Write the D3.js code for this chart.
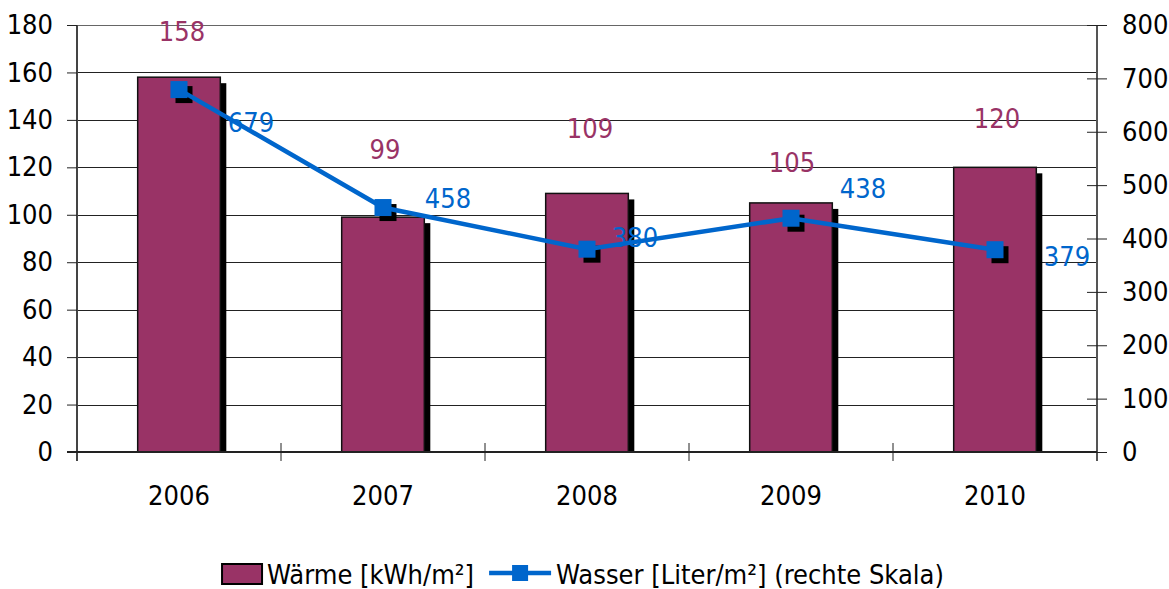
<!DOCTYPE html>
<html>
<head>
<meta charset="utf-8">
<script src="https://cdn.jsdelivr.net/npm/d3@7/dist/d3.min.js"></script>
<style>
  html, body { margin: 0; padding: 0; background: #fff; }
  svg { display: block; }
  text { font-family: "DejaVu Sans Condensed", "DejaVu Sans", sans-serif; }
</style>
</head>
<body>
<svg id="chart" width="1169" height="589"></svg>
<script>
// Jahresverbrauch: Wärme (linke Achse) und Wasser (rechte Achse)
const years = ["2006", "2007", "2008", "2009", "2010"];
const waerme = [158, 99, 109, 105, 120];
const wasser = [679, 458, 380, 438, 379];
const leftTicks = [0, 20, 40, 60, 80, 100, 120, 140, 160, 180];
const rightTicks = [0, 100, 200, 300, 400, 500, 600, 700, 800];
const legendLabels = ["Wärme [kWh/m²]", "Wasser [Liter/m²] (rechte Skala)"];

// label placement relative to the mark (pixels)
const waermeLabelShift = [[3, -46], [2, -68], [3, -65], [1, -40], [2, -49]];
const wasserLabelShift = [[72, 33], [65, -9], [48, -12], [72, -30], [72, 7]];

const barColor = "#993366";
const lineColor = "#0066CC";
const fontSize = 27;

const svg = d3.select("#chart");
const plotL = 77, plotR = 1097, plotT = 25, plotB = 452;

const x = d3.scaleBand().domain(years).range([plotL, plotR]).padding(0);
const yL = d3.scaleLinear().domain([0, 180]).range([plotB, plotT]);
const yR = d3.scaleLinear().domain([0, 800]).range([plotB, plotT]);
const barW = x.bandwidth() * 0.405;
const cx = d => x(d) + x.bandwidth() / 2;

// gridlines
svg.append("g").selectAll("line").data(leftTicks.filter(t => t > 0)).join("line")
  .attr("x1", plotL).attr("x2", plotR)
  .attr("y1", d => Math.round(yL(d)) + 0.5).attr("y2", d => Math.round(yL(d)) + 0.5)
  .attr("stroke", d => d === 180 ? "#666" : "#222").attr("stroke-width", 1);

// left axis
const axL = svg.append("g").attr("transform", `translate(${plotL},0)`)
  .call(d3.axisLeft(yL).tickValues(leftTicks).tickSize(10).tickPadding(14));
axL.select(".domain").attr("stroke", "#444").attr("stroke-width", 2)
  .attr("d", `M0,${plotT}V${plotB + 9}`);
axL.selectAll(".tick line").attr("stroke", "#222");
axL.selectAll(".tick text").attr("font-size", fontSize).attr("fill", "#000")
  .attr("font-family", null);

// right axis
const axR = svg.append("g").attr("transform", `translate(${plotR},0)`)
  .call(d3.axisRight(yR).tickValues(rightTicks).tickSize(10).tickPadding(15));
axR.select(".domain").attr("stroke", "#555").attr("stroke-width", 2)
  .attr("d", `M0,${plotT}V${plotB + 9}`);
axR.selectAll(".tick line").attr("stroke", "#222").attr("x1", -10);
axR.selectAll(".tick text").attr("font-size", fontSize).attr("fill", "#000")
  .attr("font-family", null);

// bars: shadow then body
svg.append("g").selectAll("rect").data(years).join("rect")
  .attr("x", (d, i) => cx(d) - barW / 2 + 6)
  .attr("y", (d, i) => yL(waerme[i]) + 6)
  .attr("width", barW)
  .attr("height", (d, i) => plotB - yL(waerme[i]) - 6)
  .attr("fill", "#000");
svg.append("g").selectAll("rect").data(years).join("rect")
  .attr("x", d => cx(d) - barW / 2)
  .attr("y", (d, i) => yL(waerme[i]))
  .attr("width", barW)
  .attr("height", (d, i) => plotB - yL(waerme[i]))
  .attr("fill", barColor).attr("stroke", "#111").attr("stroke-width", 1.5);

// x axis
const axX = svg.append("g").attr("transform", `translate(0,${plotB})`)
  .call(d3.axisBottom(x).tickSize(0).tickPadding(34));
axX.select(".domain").attr("stroke", "#222").attr("stroke-width", 2)
  .attr("d", `M${plotL - 10},0H${plotR}`);
axX.selectAll(".tick text").attr("font-size", fontSize).attr("fill", "#000")
  .attr("font-family", null);
svg.append("g").selectAll("line").data(d3.range(1, years.length)).join("line")
  .attr("x1", i => plotL + i * x.step()).attr("x2", i => plotL + i * x.step())
  .attr("y1", plotB - 9).attr("y2", plotB + 9)
  .attr("stroke", "#222").attr("stroke-width", 1);

// Wasser line
const mk = 17;
svg.append("g").selectAll("rect").data(years).join("rect")
  .attr("x", d => cx(d) - mk / 2 + 5)
  .attr("y", (d, i) => yR(wasser[i]) - mk / 2 + 5)
  .attr("width", mk).attr("height", mk).attr("fill", "#000");
svg.append("path")
  .datum(years)
  .attr("d", d3.line().x(d => cx(d)).y((d, i) => yR(wasser[i])))
  .attr("fill", "none").attr("stroke", lineColor).attr("stroke-width", 4.5);
svg.append("g").selectAll("rect").data(years).join("rect")
  .attr("x", d => cx(d) - mk / 2)
  .attr("y", (d, i) => yR(wasser[i]) - mk / 2)
  .attr("width", mk).attr("height", mk).attr("fill", lineColor);

// value labels
svg.append("g").selectAll("text").data(years).join("text")
  .attr("x", (d, i) => cx(d) + waermeLabelShift[i][0])
  .attr("y", (d, i) => yL(waerme[i]) + waermeLabelShift[i][1])
  .attr("text-anchor", "middle").attr("dominant-baseline", "central")
  .attr("font-size", fontSize).attr("fill", barColor)
  .text((d, i) => waerme[i]);
svg.append("g").selectAll("text").data(years).join("text")
  .attr("x", (d, i) => cx(d) + wasserLabelShift[i][0])
  .attr("y", (d, i) => yR(wasser[i]) + wasserLabelShift[i][1])
  .attr("text-anchor", "middle").attr("dominant-baseline", "central")
  .attr("font-size", fontSize).attr("fill", lineColor)
  .text((d, i) => wasser[i]);

// legend, laid out from measured text widths and centred under the plot
const lg = svg.append("g");
const legY = 574, swW = 40, swH = 20, sampleW = 62;
const swatch = lg.append("rect").attr("y", legY - swH / 2).attr("width", swW).attr("height", swH)
  .attr("fill", barColor).attr("stroke", "#000").attr("stroke-width", 2);
const t1 = lg.append("text").attr("y", legY).attr("dominant-baseline", "central")
  .attr("font-size", fontSize).attr("fill", "#000").text(legendLabels[0]);
const sample = lg.append("line").attr("y1", legY - 1).attr("y2", legY - 1)
  .attr("stroke", lineColor).attr("stroke-width", 4.5);
const sampleMk = lg.append("rect").attr("y", legY - 9).attr("width", 16).attr("height", 16)
  .attr("fill", lineColor);
const t2 = lg.append("text").attr("y", legY).attr("dominant-baseline", "central")
  .attr("font-size", fontSize).attr("fill", "#000").text(legendLabels[1]);
const w1 = t1.node().getComputedTextLength();
const w2 = t2.node().getComputedTextLength();
const total = swW + 5 + w1 + 15 + sampleW + 5 + w2;
let lx = 583 - total / 2;
swatch.attr("x", lx);
t1.attr("x", lx + swW + 5);
const sx = lx + swW + 5 + w1 + 15;
sample.attr("x1", sx).attr("x2", sx + sampleW);
sampleMk.attr("x", sx + sampleW / 2 - 8);
t2.attr("x", sx + sampleW + 5);
</script>
</body>
</html>
